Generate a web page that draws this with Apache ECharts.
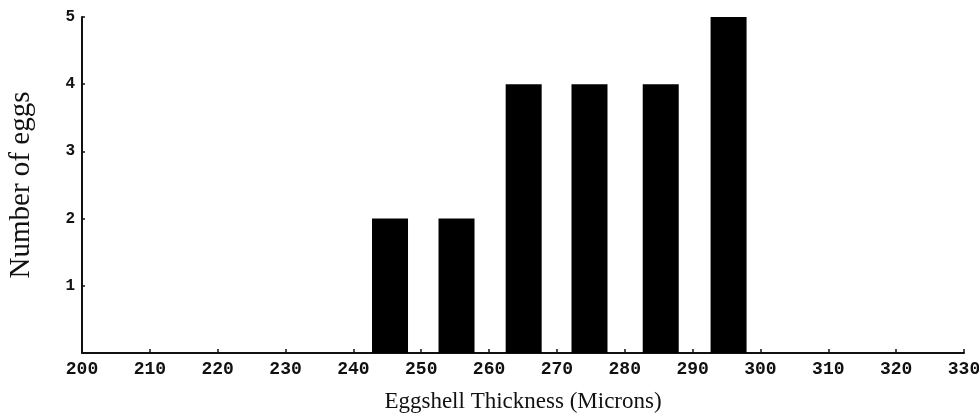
<!DOCTYPE html>
<html><head><meta charset="utf-8">
<script src="https://cdn.jsdelivr.net/npm/echarts@6/dist/echarts.min.js"></script>
<style>html,body{margin:0;padding:0;background:#fff}#c{width:979px;height:417px}</style>
</head><body><div id="c"></div>
<script>
const binCenters = [245.4, 255.2, 265.1, 274.8, 285.3, 295.3];
const eggCounts = [2, 2, 4, 4, 4, 5];
const xTitle = 'Eggshell Thickness (Microns)';
const yTitle = 'Number of eggs';

const chart = echarts.init(document.getElementById('c'));
chart.setOption({
  animation: false,
  backgroundColor: '#fff',
  grid: {left: 82, right: 15, top: 17, bottom: 64, outerBoundsMode: 'none', containLabel: false},
  xAxis: {
    type: 'value', min: 200, max: 330, interval: 10,
    name: xTitle, nameLocation: 'middle', nameGap: 37,
    nameTextStyle: {fontFamily: 'Liberation Serif', fontSize: 23, color: '#111'},
    axisLine: {lineStyle: {color: '#111', width: 2}},
    axisTick: {inside: true, length: 4, lineStyle: {color: '#111', width: 1.5}},
    axisLabel: {fontFamily: 'Liberation Mono', fontSize: 18, color: '#111', margin: 7, fontWeight: 'bold',
      showMinLabel: true, showMaxLabel: true},
    splitLine: {show: false}
  },
  yAxis: {
    type: 'value', min: 0, max: 5, interval: 1,
    name: yTitle, nameLocation: 'middle', nameGap: 46, nameRotate: 90,
    nameTextStyle: {fontFamily: 'Liberation Serif', fontSize: 29, color: '#111'},
    axisLine: {show: true, lineStyle: {color: '#111', width: 2}},
    axisTick: {show: true, inside: true, length: 3, lineStyle: {color: '#111', width: 1.5}},
    axisLabel: {fontFamily: 'Liberation Mono', fontSize: 16, color: '#111', margin: 7, fontWeight: 'bold',
      formatter: v => v === 0 ? '' : String(v)},
    splitLine: {show: false}
  },
  series: [{
    type: 'bar',
    data: binCenters.map((c, i) => [c, eggCounts[i]]),
    barWidth: 36,
    itemStyle: {color: '#000'}
  }]
});
</script></body></html>
